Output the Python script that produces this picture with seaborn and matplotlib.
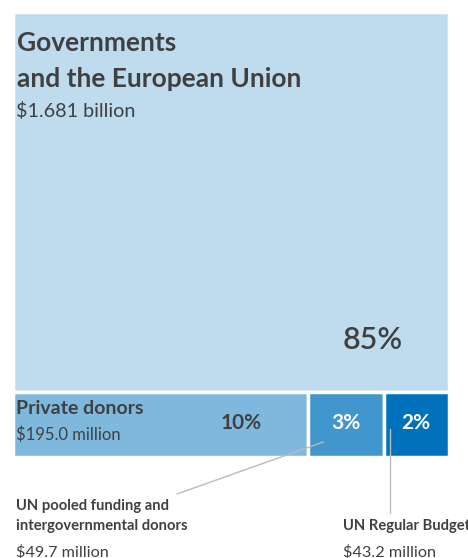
import pandas as pd
import matplotlib.pyplot as plt
import seaborn as sns
from matplotlib.patches import Rectangle

sns.set_theme(style="white")
plt.rcParams['font.family'] = ['Lato', 'DejaVu Sans']

# Dados (milhões de USD)
sources = ["Governments\nand the European Union", "Private donors",
           "UN pooled funding and\nintergovernmental donors", "UN Regular Budget"]
amounts = [1681.0, 195.0, 49.7, 43.2]
amount_labels = ["$1.681 billion", "$195.0 million", "$49.7 million", "$43.2 million"]
pct_labels = ["85%", "10%", "3%", "2%"]
colors = ["#bedcee", "#7fb8dd", "#4196ce", "#0072bc"]

df = pd.DataFrame({"source": sources, "amount": amounts,
                   "amount_label": amount_labels, "pct": pct_labels, "color": colors})

TXT = "#404040"
W, H = 468, 558
X0, Y0, TW, TH = 13, 12, 436, 445   # área do treemap (px)

fig = plt.figure(figsize=(W / 100, H / 100), dpi=100)
ax = fig.add_axes([0, 0, 1, 1])
ax.set_xlim(0, W)
ax.set_ylim(H, 0)
ax.axis("off")


def lines(x, y0, text, step, **kw):
    # uma linha de cada vez, para controlar a linha de base
    for k, ln in enumerate(text.split("\n")):
        ax.text(x, y0 + k * step, ln, va="baseline", **kw)


# layout: primeira fatia em cima, restante numa linha em baixo
total = df["amount"].sum()
top_h = TH * df["amount"].iloc[0] / total
rects = [(X0, Y0, TW, top_h)]
rest = df["amount"].iloc[1:]
x = X0
for v in rest:
    w = TW * v / rest.sum()
    rects.append((x, Y0 + top_h, w, TH - top_h))
    x += w

for (rx, ry, rw, rh), c in zip(rects, df["color"]):
    ax.add_patch(Rectangle((rx, ry), rw, rh, facecolor=c, edgecolor="white", linewidth=2.5))

# Governos
gx, gy, gw, gh = rects[0]
lines(gx + 4, gy + 39, df["source"][0], 36, fontsize=19, fontweight="bold", color=TXT)
ax.text(gx + 3, gy + 105, df["amount_label"][0], fontsize=14.2, color=TXT, va="baseline")
ax.text(gx + gw - 46, gy + gh - 43, df["pct"][0], fontsize=22, fontweight="semibold", color=TXT,
        ha="right", va="baseline")

# Doadores privados
px, py, pw, ph = rects[1]
ax.text(px + 3, py + 22, df["source"][1], fontsize=14, fontweight="bold", color=TXT, va="baseline")
ax.text(px + 3, py + 48, df["amount_label"][1], fontsize=12, color=TXT, va="baseline")
ax.text(px + pw - 47, py + 37, df["pct"][1], fontsize=15, fontweight="bold", color=TXT,
        ha="right", va="baseline")

# caixas pequenas
for i in (2, 3):
    bx, by, bw, bh = rects[i]
    ax.text(bx + bw / 2, by + 37, df["pct"][i], fontsize=15, fontweight="bold", color="white",
            ha="center", va="baseline")

# linhas de chamada e rótulos externos
bx, by, bw, bh = rects[2]
ax.plot([bx + bw * 0.2, 177], [by + 50, 494], color="#bbbbbb", lw=1)
lines(16, 510, df["source"][2], 20, fontsize=10.6, fontweight="bold", color=TXT)
ax.text(16, 556, df["amount_label"][2], fontsize=11.7, color=TXT, va="baseline")

bx, by, bw, bh = rects[3]
ax.plot([bx + bw * 0.1, bx + bw * 0.1], [by + 37, 513], color="#bbbbbb", lw=1)
ax.text(343, 530, df["source"][3], fontsize=10.6, fontweight="bold", color=TXT, va="baseline")
ax.text(343, 556, df["amount_label"][3], fontsize=11.7, color=TXT, va="baseline")

fig.savefig("out.png", dpi=100)
